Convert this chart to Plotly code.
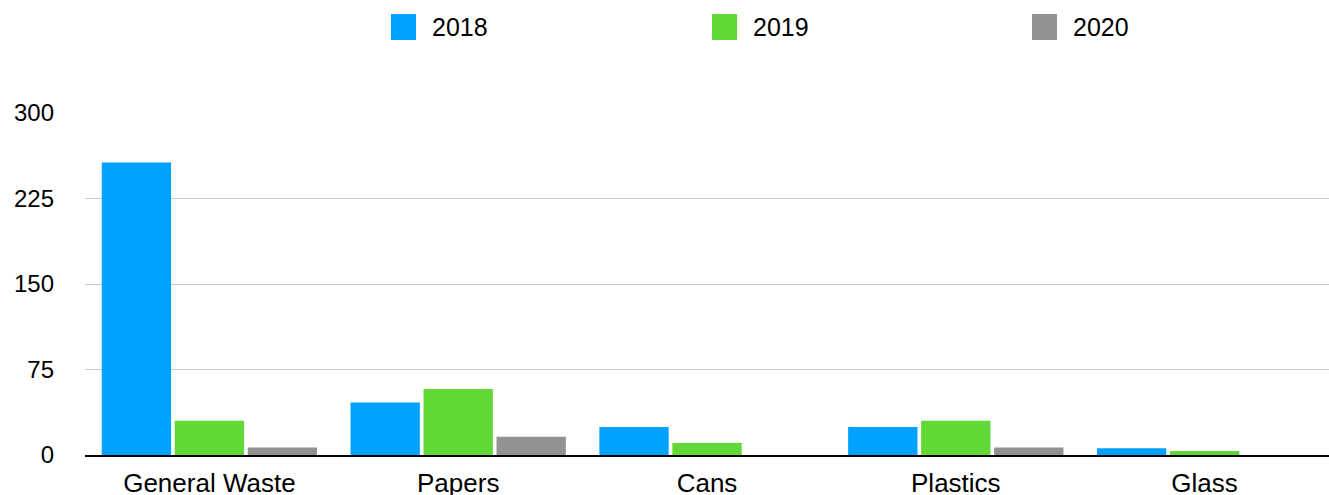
import plotly.graph_objects as go

categories = ["General Waste", "Papers", "Cans", "Plastics", "Glass"]
series_names = ["2018", "2019", "2020"]
values_2018 = [256.5, 46, 24.5, 24.5, 6]
values_2019 = [30, 58, 10.5, 30, 3.5]
values_2020 = [6.5, 16, 0, 6.5, 0]
colors = ["#00A2FF", "#61D836", "#929292"]
y_ticks = [0, 75, 150, 225, 300]

W, H = 1329, 495
L, R, T, B = 85, 0, 113, 40
pw, ph = W - L - R, H - T - B
FONT = "Liberation Sans, Arial, Helvetica, sans-serif"

def px_x(x):
    return (x - L) / pw

def px_y(y):
    return (H - B - y) / ph

fig = go.Figure()
for name, vals, col in zip(series_names, [values_2018, values_2019, values_2020], colors):
    fig.add_trace(go.Bar(x=categories, y=vals, name=name, marker=dict(color=col, line=dict(width=0)),
                         showlegend=False))

# custom legend
legend_x = [391, 712, 1032]
shapes = []
annotations = []
for name, col, lx in zip(series_names, colors, legend_x):
    shapes.append(dict(type="rect", xref="paper", yref="paper",
                       x0=px_x(lx), x1=px_x(lx + 25), y0=px_y(40), y1=px_y(14),
                       fillcolor=col, line=dict(width=0)))
    annotations.append(dict(text=name, xref="paper", yref="paper", x=px_x(lx + 39), y=px_y(27),
                            xanchor="left", yanchor="middle", showarrow=False,
                            font=dict(size=25, color="#000000", family=FONT)))

fig.update_layout(
    width=W, height=H,
    margin=dict(l=L, r=R, t=T, b=B, pad=0, autoexpand=False),
    paper_bgcolor="white", plot_bgcolor="white",
    barmode="group", bargap=0.12, bargroupgap=0.05,
    font=dict(family=FONT, size=24, color="#000000"),
    shapes=shapes, annotations=annotations,
    xaxis=dict(showgrid=False, showline=True, linecolor="#000000", linewidth=2, automargin=False,
               ticks="", tickfont=dict(size=26, color="#000000"), ticklabelstandoff=4),
    yaxis=dict(range=[0, 300], tickvals=y_ticks, showgrid=True, gridcolor="#C8C8C8", gridwidth=1,
               zeroline=False, showline=False, ticks="", automargin=False,
               tickfont=dict(size=24, color="#000000"), ticklabelstandoff=30),
)

fig.write_html("out.html", config={"displayModeBar": False},
               post_script="document.body.style.margin='0px';")
